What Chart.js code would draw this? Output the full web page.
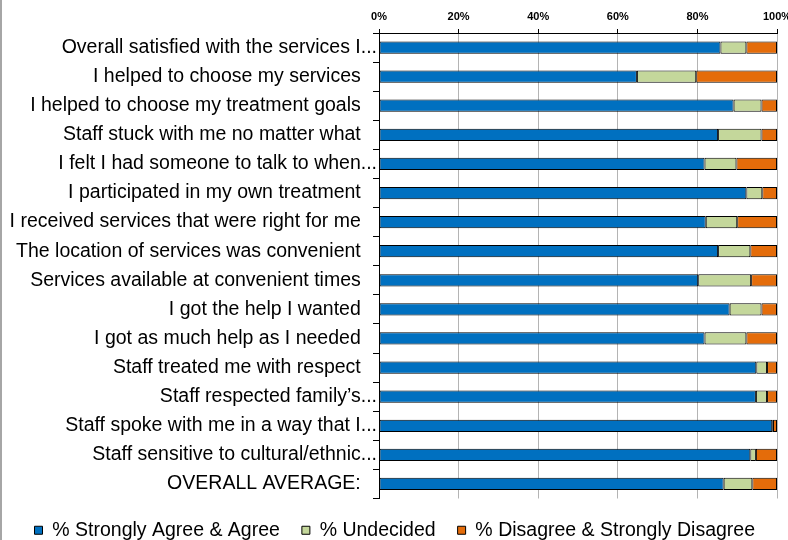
<!DOCTYPE html>
<html>
<head>
<meta charset="utf-8">
<script src="https://cdn.jsdelivr.net/npm/chart.js@4"></script>
<style>
  html, body { margin: 0; padding: 0; background: #fff; }
  .frame { width: 786px; height: 540px; border-left: 2px solid #a6a6a6; }
</style>
</head>
<body>
<div class="frame"><canvas id="surveyChart" width="786" height="540"></canvas></div>
<script>
const questions = [
  "Overall satisfied with the services I...",
  "I helped to choose my services",
  "I helped to choose my treatment goals",
  "Staff stuck with me no matter what",
  "I felt I had someone to talk to when...",
  "I participated in my own treatment",
  "I received services that were right for me",
  "The location of services was convenient",
  "Services available at convenient times",
  "I got the help I wanted",
  "I got as much help as I needed",
  "Staff treated me with respect",
  "Staff respected family\u2019s...",
  "Staff spoke with me in a way that I...",
  "Staff sensitive to cultural/ethnic...",
  "OVERALL AVERAGE:",
];
const agree = [85.8, 64.8, 89.1, 85.2, 81.8, 92.3, 82.1, 85.2, 80.2, 88.1, 81.8, 94.8, 94.7, 98.8, 93.3, 86.6];
const undecided = [6.5, 14.9, 7.0, 10.9, 8.0, 4.0, 7.9, 8.1, 13.3, 8.0, 10.5, 2.7, 2.8, 0.2, 1.4, 7.2];
const disagree = [7.7, 20.3, 3.9, 3.9, 10.2, 3.7, 10.0, 6.7, 6.5, 3.9, 7.7, 2.5, 2.5, 1.0, 5.3, 6.2];
const percentTicks = [0, 20, 40, 60, 80, 100];

const FONT = "'Liberation Sans', Arial, sans-serif";

const series = (label, data, color) => ({
  label: label,
  data: data,
  backgroundColor: color,
  borderColor: "#000",
  borderWidth: 1,
  borderSkipped: false,
  barPercentage: 0.42,
  categoryPercentage: 1,
});

const ctx = document.getElementById("surveyChart").getContext("2d");
new Chart(ctx, {
  type: "bar",
  data: {
    labels: questions,
    datasets: [
      series("% Strongly Agree & Agree", agree, "#0070C0"),
      series("% Undecided", undecided, "#C4D79B"),
      series("% Disagree & Strongly Disagree", disagree, "#E46C0A"),
    ],
  },
  options: {
    indexAxis: "y",
    responsive: false,
    animation: false,
    layout: { padding: { left: 0, right: 11, top: 0, bottom: -10 } },
    scales: {
      x: {
        position: "top",
        stacked: true,
        min: 0,
        max: 100,
        afterBuildTicks: (scale) => {
          scale.ticks = percentTicks.map((v) => ({ value: v }));
        },
        afterFit: (scale) => {
          scale.height = 33;
          scale.paddingLeft = 0;
          scale.paddingRight = 0;
        },
        ticks: {
          callback: (v) => v + "%",
          color: "#000",
          padding: 5,
          maxRotation: 0,
          font: { family: FONT, size: 11, weight: "bold" },
        },
        grid: { color: "#b4b4b4", lineWidth: 1, tickLength: 4, tickColor: "#000" },
        border: { display: true, color: "#000", width: 1 },
      },
      y: {
        stacked: true,
        afterFit: (scale) => {
          scale.width = 377;
          scale.paddingTop = 0;
          scale.paddingBottom = 0;
        },
        ticks: {
          // truncated labels keep their dots past the usual right edge
          callback: function (v) {
            const text = this.getLabelForValue(v);
            return text.endsWith("...") ? text : text + "   ";
          },
          color: "#000",
          padding: -4,
          autoSkip: false,
          font: { family: FONT, size: 19.5 },
        },
        grid: { drawOnChartArea: false, tickLength: 6, tickColor: "#000" },
        border: { display: true, color: "#000", width: 1 },
      },
    },
    plugins: {
      legend: {
        position: "bottom",
        align: "end",
        labels: {
          color: "#000",
          boxWidth: 8,
          boxHeight: 8,
          padding: 22,
          font: { family: FONT, size: 19.5 },
        },
      },
      tooltip: { enabled: false },
    },
  },
});
</script>
</body>
</html>
